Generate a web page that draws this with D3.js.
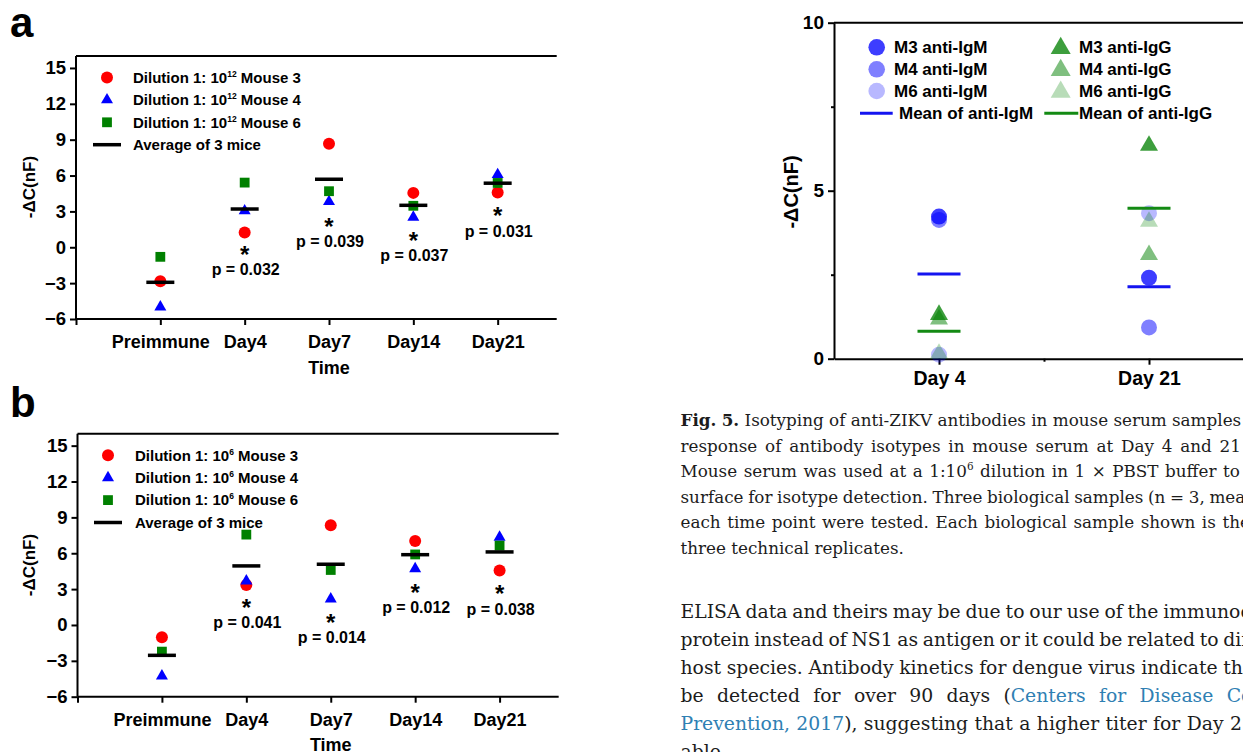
<!DOCTYPE html>
<html>
<head>
<meta charset="utf-8">
<script src="https://cdn.jsdelivr.net/npm/d3@7"></script>
<style>
  body { margin: 0; background: #fff; overflow: hidden; }
  svg { display: block; background: #fff; }
  .chart text { font-family: "Liberation Sans", Arial, sans-serif; font-weight: bold; fill: #000; }
  .prose text { font-family: "DejaVu Serif", serif; fill: #1c1c1c; }
</style>
</head>
<body>
<svg id="fig" width="1243" height="752"></svg>
<script>
// ---- data: panels a and b (time course) ----
const days = ['Preimmune', 'Day4', 'Day7', 'Day14', 'Day21'];
const yTicksTime = [-6, -3, 0, 3, 6, 9, 12, 15];

// a: dilution 1:10^12
const aMouse3 = [-2.85, 1.23, 8.65, 4.55, 4.58];
const aMouse4 = [-5.0, 3.05, 3.82, 2.51, 6.08];
const aMouse6 = [-0.8, 5.41, 4.69, 3.47, 5.38];
const aMean   = [-2.93, 3.2, 5.69, 3.51, 5.36];
const aStarY  = [null, -0.17, 2.18, 1.0, 3.04];
const aPvals  = [null, 'p = 0.032', 'p = 0.039', 'p = 0.037', 'p = 0.031'];

// b: dilution 1:10^6
const bMouse3 = [-1.03, 3.35, 8.34, 7.03, 4.55];
const bMouse4 = [-4.27, 3.68, 2.18, 4.71, 7.34];
const bMouse6 = [-2.23, 7.56, 4.6, 5.9, 6.64];
const bMean   = [-2.54, 4.94, 5.08, 5.88, 6.11];
const bStarY  = [null, 1.87, 0.64, 3.15, 3.01];
const bPvals  = [null, 'p = 0.041', 'p = 0.014', 'p = 0.012', 'p = 0.038'];

const mouseNames = ['Mouse 3', 'Mouse 4', 'Mouse 6'];

// ---- data: isotyping panel ----
const isoDays = ['Day 4', 'Day 21'];
const igmM3 = [4.23, 2.41];
const igmM4 = [4.13, 0.93];
const igmM6 = [0.12, 4.33];
const iggM3 = [1.31, 6.34];
const iggM4 = [1.17, 3.09];
const iggM6 = [0.15, 4.08];
const igmMean = [2.52, 2.14];
const iggMean = [0.82, 4.48];
const isoLegend = ['M3 anti-IgM', 'M4 anti-IgM', 'M6 anti-IgM', 'Mean of anti-IgM',
                   'M3 anti-IgG', 'M4 anti-IgG', 'M6 anti-IgG', 'Mean of anti-IgG'];

// ---- text beside the chart ----
const captionLines = [
  ['**Fig.** **5.** Isotyping of anti-ZIKV antibodies in mouse serum samples', 1172],
  ['response of antibody isotypes in mouse serum at Day 4 and 21', 1219.5],
  ['Mouse serum was used at a 1:10^6^ dilution in 1 × PBST buffer to', 1223],
  ['surface for isotype detection. Three biological samples (n = 3, mean', 1209.4],
  ['each time point were tested. Each biological sample shown is the', 1222.4],
  ['three technical replicates.', null]
];
const bodyLines = [
  ['ELISA data and theirs may be due to our use of the immunodominant', 1163.3],
  ['protein instead of NS1 as antigen or it could be related to different', 1223.3],
  ['host species. Antibody kinetics for dengue virus indicate that', 1223.3],
  ['be detected for over 90 days ({Centers} {for} {Disease} {Control}', 1226.7],
  ['{Prevention,} {2017}), suggesting that a higher titer for Day 21', 1230],
  ['able.', null]
];

const red = '#ff0000', blue = '#0000ff', green = '#008000';
const linkColour = '#2f80b3';

const svg = d3.select('#fig');
const chart = svg.append('g').attr('class', 'chart');

// triangle symbol size from its base width
const triSize = w => Math.pow(w / (2 * Math.sqrt(3)), 2) * 3 * Math.sqrt(3);

// ---- time course panel (a / b) ----
function drawTimePanel(opts) {
  const g = chart.append('g');
  const x = d3.scaleLinear().domain([0, 6]).range(opts.xRange);
  const y = d3.scaleLinear().domain([-6, 16]).range(opts.yRange);
  const xEnd = 5.7; // the figure is cropped a little before the right frame

  // frame top line
  g.append('line')
    .attr('x1', x(0)).attr('x2', x(xEnd))
    .attr('y1', y(16)).attr('y2', y(16))
    .attr('stroke', '#000').attr('stroke-width', 2);

  // left axis
  const yAxis = g.append('g')
    .attr('transform', `translate(${x(0)},0)`)
    .call(d3.axisLeft(y).tickValues(yTicksTime).tickSize(6).tickSizeOuter(0).tickPadding(4));
  yAxis.select('.domain').attr('stroke-width', 2).attr('d', `M0,${y(16)}V${y(-6)}`);
  yAxis.selectAll('line').attr('stroke-width', 2);
  yAxis.selectAll('text').style('font-size', '18.5px');

  // bottom axis
  const xAxis = g.append('g')
    .attr('transform', `translate(0,${y(-6)})`)
    .call(d3.axisBottom(x).tickValues([0, 1, 2, 3, 4, 5])
      .tickFormat(i => i > 0 ? days[i - 1] : '').tickSize(6).tickSizeOuter(0));
  xAxis.select('.domain').attr('stroke-width', 2).attr('d', `M${x(0)},0H${x(xEnd)}`);
  xAxis.selectAll('line').attr('stroke-width', 2);
  xAxis.selectAll('text').style('font-size', '18px').attr('y', 23).attr('dy', '0.35em');

  // axis titles
  g.append('text')
    .attr('transform', `translate(${opts.yTitle[0]},${opts.yTitle[1]}) rotate(-90)`)
    .attr('text-anchor', 'middle').attr('dy', '0.35em')
    .style('font-size', '17px').text('-\u0394C(nF)');
  g.append('text')
    .attr('x', x(3)).attr('y', opts.timeY)
    .attr('text-anchor', 'middle').attr('dy', '0.35em')
    .style('font-size', '18px').text('Time');

  // panel letter
  g.append('text')
    .attr('x', 10).attr('y', opts.letterY)
    .style('font-size', '42px').text(opts.letter);

  // points (index i -> category i+1)
  const circle = d3.symbol(d3.symbolCircle, Math.PI * 6 * 6)();
  const tri = d3.symbol(d3.symbolTriangle, triSize(12))();
  const sq = d3.symbol(d3.symbolSquare, 96)();
  const series = [[opts.m3, circle, red], [opts.m4, tri, blue], [opts.m6, sq, green]];
  series.forEach(([vals, path, col]) => {
    g.append('g').selectAll('path')
      .data(vals)
      .enter()
      .append('path')
        .attr('d', path)
        .attr('transform', (d, i) => `translate(${x(i + 1)},${y(d)})`)
        .attr('fill', col);
  });

  // mean bars
  g.append('g').selectAll('line')
    .data(opts.mean)
    .enter()
    .append('line')
      .attr('x1', (d, i) => x(i + 1) - 14)
      .attr('x2', (d, i) => x(i + 1) + 14)
      .attr('y1', d => y(d)).attr('y2', d => y(d))
      .attr('stroke', '#000').attr('stroke-width', 3.5);

  // significance stars and p values
  const sig = opts.starY.map((s, i) => ({s, i, p: opts.pvals[i]})).filter(d => d.s !== null);
  g.append('g').selectAll('text')
    .data(sig)
    .enter()
    .append('text')
      .attr('x', d => x(d.i + 1)).attr('y', d => y(d.s) + 13.5)
      .attr('text-anchor', 'middle')
      .style('font-size', '24px').text('*');
  g.append('g').selectAll('text')
    .data(sig)
    .enter()
    .append('text')
      .attr('x', d => x(d.i + 1) + 1).attr('y', d => y(d.s) + 20)
      .attr('text-anchor', 'middle').attr('dy', '0.35em')
      .style('font-size', '16px').text(d => d.p);

  // legend
  const lg = g.append('g');
  const rows = [circle, tri, sq, null];
  const cols = [red, blue, green, '#000'];
  rows.forEach((path, k) => {
    const ry = opts.legendY + k * 22.4;
    if (path) {
      lg.append('path').attr('d', path)
        .attr('transform', `translate(${opts.legendX},${ry})`).attr('fill', cols[k]);
      const t = lg.append('text').attr('x', opts.legendTextX).attr('y', ry).attr('dy', '0.35em')
        .style('font-size', '15px');
      t.append('tspan').text('Dilution 1: 10');
      t.append('tspan').attr('dy', -6).style('font-size', '8.5px').text(opts.sup);
      t.append('tspan').attr('dy', 6).text(' ' + mouseNames[k]);
    } else {
      lg.append('line')
        .attr('x1', opts.legendX - 14).attr('x2', opts.legendX + 14)
        .attr('y1', ry).attr('y2', ry)
        .attr('stroke', '#000').attr('stroke-width', 3.5);
      lg.append('text').attr('x', opts.legendTextX).attr('y', ry).attr('dy', '0.35em')
        .style('font-size', '15px').text('Average of 3 mice');
    }
  });
}

drawTimePanel({
  letter: 'a', letterY: 37, sup: '12',
  xRange: [76, 582], yRange: [319, 56],
  m3: aMouse3, m4: aMouse4, m6: aMouse6, mean: aMean, starY: aStarY, pvals: aPvals,
  yTitle: [29, 187], timeY: 368,
  legendX: 107, legendTextX: 133, legendY: 77.5
});
drawTimePanel({
  letter: 'b', letterY: 417, sup: '6',
  xRange: [77.5, 584], yRange: [696.7, 433.7],
  m3: bMouse3, m4: bMouse4, m6: bMouse6, mean: bMean, starY: bStarY, pvals: bPvals,
  yTitle: [29, 565], timeY: 745,
  legendX: 108, legendTextX: 135, legendY: 455.3
});

// ---- isotyping panel ----
(function drawIsoPanel() {
  const g = chart.append('g');
  const x = d3.scaleLinear().domain([0.5, 2.5]).range([834, 1254]);
  const y = d3.scaleLinear().domain([0, 10]).range([358.7, 22.7]);

  g.append('line')
    .attr('x1', x(0.5)).attr('x2', x(2.5))
    .attr('y1', y(10)).attr('y2', y(10))
    .attr('stroke', '#000').attr('stroke-width', 2);

  const yAxis = g.append('g').attr('transform', `translate(${x(0.5)},0)`)
    .call(d3.axisLeft(y).tickValues([0, 5, 10]).tickSize(6).tickSizeOuter(0).tickPadding(4));
  yAxis.select('.domain').attr('stroke-width', 2);
  yAxis.selectAll('line').attr('stroke-width', 2);
  yAxis.selectAll('text').style('font-size', '19px');
  g.append('g').attr('transform', `translate(${x(0.5)},0)`)
    .call(d3.axisLeft(y).tickValues([2.5, 7.5]).tickSize(3).tickFormat(''))
    .call(a => a.select('.domain').remove())
    .selectAll('line').attr('stroke-width', 2);

  const xAxis = g.append('g').attr('transform', `translate(0,${y(0)})`)
    .call(d3.axisBottom(x).tickValues([1, 2]).tickFormat(i => isoDays[i - 1]).tickSize(6).tickSizeOuter(0));
  xAxis.select('.domain').attr('stroke-width', 2);
  xAxis.selectAll('line').attr('stroke-width', 2);
  xAxis.selectAll('text').style('font-size', '19.5px').attr('y', 19).attr('dy', '0.35em');
  g.append('g').attr('transform', `translate(0,${y(0)})`)
    .call(d3.axisBottom(x).tickValues([1.5]).tickSize(3).tickFormat(''))
    .call(a => a.select('.domain').remove())
    .selectAll('line').attr('stroke-width', 2);

  g.append('text')
    .attr('transform', `translate(790.7,192) rotate(-90)`)
    .attr('text-anchor', 'middle').attr('dy', '0.35em')
    .style('font-size', '20px').text('-\u0394C(nF)');

  const circle = d3.symbol(d3.symbolCircle, Math.PI * 8 * 8)();
  const tri = d3.symbol(d3.symbolTriangle, triSize(18))();
  const circles = [[igmM3, 0.76], [igmM4, 0.5], [igmM6, 0.28]];
  const tris = [[iggM3, 0.76], [iggM4, 0.5], [iggM6, 0.28]];

  circles.forEach(([vals, op]) => {
    g.append('g').selectAll('path').data(vals).enter().append('path')
      .attr('d', circle)
      .attr('transform', (d, i) => `translate(${x(i + 1)},${y(d)})`)
      .attr('fill', blue).attr('fill-opacity', op);
  });
  tris.forEach(([vals, op]) => {
    g.append('g').selectAll('path').data(vals).enter().append('path')
      .attr('d', tri)
      .attr('transform', (d, i) => `translate(${x(i + 1)},${y(d)})`)
      .attr('fill', green).attr('fill-opacity', op);
  });
  [[igmMean, '#1414f0'], [iggMean, '#138a13']].forEach(([vals, col]) => {
    g.append('g').selectAll('line').data(vals).enter().append('line')
      .attr('x1', (d, i) => x(i + 1) - 21.5).attr('x2', (d, i) => x(i + 1) + 21.5)
      .attr('y1', d => y(d)).attr('y2', d => y(d))
      .attr('stroke', col).attr('stroke-width', 3);
  });

  // legend: two columns of four rows
  const lg = g.append('g');
  const rowY = [47.3, 69.3, 91, 113.3];
  const colMarkX = [876.7, 1060.7];
  const colTextX = [894, 1079];
  const ops = [0.76, 0.5, 0.28];
  [0, 1].forEach(c => {
    rowY.forEach((ry, k) => {
      const label = isoLegend[c * 4 + k];
      if (k < 3) {
        lg.append('path').attr('d', c === 0 ? d3.symbol(d3.symbolCircle, Math.PI * 8.3 * 8.3)() : d3.symbol(d3.symbolTriangle, triSize(20))())
          .attr('transform', `translate(${colMarkX[c]},${ry + (c === 1 ? 1 : 0)})`)
          .attr('fill', c === 0 ? blue : green).attr('fill-opacity', ops[k]);
        lg.append('text').attr('x', colTextX[c]).attr('y', ry).attr('dy', '0.35em')
          .style('font-size', '17px').text(label);
      } else {
        const lx = c === 0 ? [860, 892.7] : [1044.3, 1078.3];
        lg.append('line').attr('x1', lx[0]).attr('x2', lx[1]).attr('y1', ry).attr('y2', ry)
          .attr('stroke', c === 0 ? '#1414f0' : '#138a13').attr('stroke-width', 3);
        lg.append('text').attr('x', c === 0 ? 899 : 1079).attr('y', ry).attr('dy', '0.35em')
          .style('font-size', '17px').text(label);
      }
    });
  });
})();

// ---- caption and body text, justified word by word ----
const prose = svg.append('g').attr('class', 'prose');

function spaceWidth(size) {
  const t = prose.append('text').style('font-size', size + 'px');
  t.text('n n');
  const a = t.node().getComputedTextLength();
  t.text('nn');
  const b = t.node().getComputedTextLength();
  t.remove();
  return a - b;
}

function proseLine(x0, y, str, lastX, size) {
  const words = str.split(' ');
  const texts = words.map(w => {
    const t = prose.append('text').attr('y', y).style('font-size', size + 'px');
    w.split(/(\*\*[^*]+\*\*|\{[^}]+\}|\^[^^]+\^)/).filter(s => s).forEach(s => {
      if (s.startsWith('**')) t.append('tspan').attr('font-weight', 'bold').text(s.slice(2, -2));
      else if (s.startsWith('{')) t.append('tspan').attr('fill', linkColour).text(s.slice(1, -1));
      else if (s.startsWith('^')) t.append('tspan').attr('dy', -size * 0.42).style('font-size', (size * 0.62) + 'px').text(s.slice(1, -1));
      else t.append('tspan').text(s);
    });
    return t;
  });
  const widths = texts.map(t => t.node().getComputedTextLength());
  let gap = spaceWidth(size);
  if (lastX !== null && words.length > 1) {
    const used = d3.sum(widths.slice(0, -1));
    gap = (lastX - x0 - used) / (words.length - 1);
  }
  let cx = x0;
  texts.forEach((t, i) => { t.attr('x', cx); cx += widths[i] + gap; });
}

captionLines.forEach(([s, lastX], i) => proseLine(680.5, 426 + i * 25.5, s, lastX, 16.8));
bodyLines.forEach(([s, lastX], i) => proseLine(680.5, 618.3 + i * 27.9, s, lastX, 18.8));
</script>
</body>
</html>
